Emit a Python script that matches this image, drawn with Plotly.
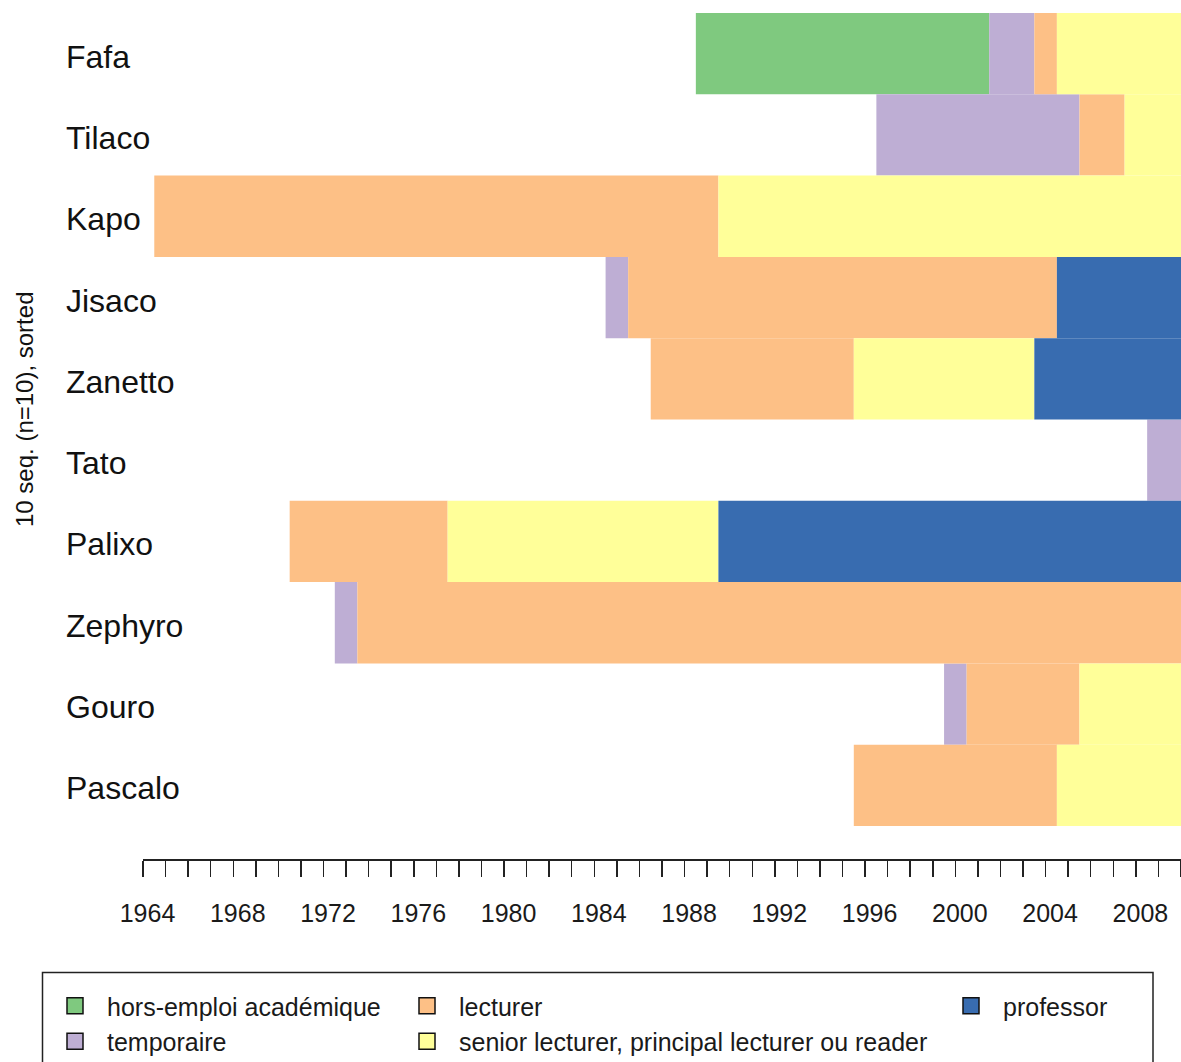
import plotly.graph_objects as go

# ---------------- data ----------------
states = ["hors-emploi académique", "temporaire", "lecturer",
          "senior lecturer, principal lecturer ou reader", "professor"]
state_colors = ["#7FC97F", "#BEAED4", "#FDC086", "#FFFF99", "#386CB0"]

# sequences, top to bottom; each spell = (state index, first year)
seq_names = ["Fafa", "Tilaco", "Kapo", "Jisaco", "Zanetto",
             "Tato", "Palixo", "Zephyro", "Gouro", "Pascalo"]
seq_spells = [
    [(0, 1989), (1, 2002), (2, 2004), (3, 2005)],
    [(1, 1997), (2, 2006), (3, 2008)],
    [(2, 1965), (3, 1990)],
    [(1, 1985), (2, 1986), (4, 2005)],
    [(2, 1987), (3, 1996), (4, 2004)],
    [(1, 2009)],
    [(2, 1971), (3, 1978), (4, 1990)],
    [(1, 1973), (2, 1974)],
    [(1, 2000), (2, 2001), (3, 2006)],
    [(2, 1996), (3, 2005)],
]
last_year = 2010

tick_years = list(range(1964, 2011))
label_years = list(range(1964, 2009, 4))
ytitle = "10 seq. (n=10), sorted"

# ---------------- layout geometry ----------------
W, H = 1181, 1062
ML, MR, MT = 143, 0, 13
PW = W - ML - MR
PH = 846
MB = H - MT - PH
PLOT_LEFT_PAGE, PLOT_BOTTOM_PAGE = 143, 859


def px_x(p):
    return (p - PLOT_LEFT_PAGE) / PW


def px_y(p):
    return (PLOT_BOTTOM_PAGE - p) / PH


FONT = "Liberation Sans, Arial, sans-serif"
n = len(seq_names)

fig = go.Figure()

# bars, one trace per state
for si, (st, col) in enumerate(zip(states, state_colors)):
    xs, bases, ys = [], [], []
    for ri, spells in enumerate(seq_spells):
        row = n - 1 - ri
        for k, (s, y0) in enumerate(spells):
            y1 = spells[k + 1][1] if k + 1 < len(spells) else last_year + 1
            if s == si:
                xs.append(y1 - y0)
                bases.append(y0 - 0.5)
                ys.append(row)
    fig.add_trace(go.Bar(
        x=xs, base=bases, y=ys, orientation="h", width=1.0,
        marker=dict(color=col, line=dict(width=0)),
        showlegend=False, hoverinfo="skip"))

# legend-only entries, split into three columns
legend_ids = ["legend", "legend", "legend2", "legend2", "legend3"]
for st, col, lg in zip(states, state_colors, legend_ids):
    fig.add_trace(go.Scatter(
        x=[None], y=[None], mode="markers", name=st, legend=lg,
        marker=dict(symbol="square", size=16, color=col,
                    line=dict(color="#111", width=1.5)),
        hoverinfo="skip"))

# invisible trace for label axis
fig.add_trace(go.Scatter(x=[None], y=[None], xaxis="x2", showlegend=False,
                         hoverinfo="skip"))

# sequence names
for ri, nm in enumerate(seq_names):
    fig.add_annotation(text=nm, x=px_x(64), xref="paper", y=n - 1 - ri, yref="y",
                       xanchor="left", yanchor="middle", showarrow=False, yshift=-3,
                       font=dict(family=FONT, size=32, color="#111"))

# y title
fig.add_annotation(text=ytitle, x=px_x(25), xref="paper", y=px_y(410), yref="paper",
                   textangle=-90, showarrow=False, xanchor="center", yanchor="middle",
                   font=dict(family=FONT, size=24, color="#111"))

# legend frame
fig.add_shape(type="rect", xref="paper", yref="paper",
              x0=px_x(42.5), x1=px_x(1153), y0=px_y(972.5), y1=px_y(1090),
              line=dict(color="#222", width=1.5), fillcolor="rgba(0,0,0,0)")

leg_common = dict(font=dict(family=FONT, size=25, color="#1a1a1a"),
                  bgcolor="rgba(0,0,0,0)", borderwidth=0, itemwidth=54,
                  xanchor="left", yanchor="top", orientation="v",
                  tracegroupgap=0, itemclick=False)

fig.update_layout(
    width=W, height=H,
    margin=dict(l=ML, r=MR, t=MT, b=MB, autoexpand=False),
    plot_bgcolor="white", paper_bgcolor="white",
    barmode="overlay",
    xaxis=dict(range=[1964, 2010], tickvals=tick_years,
               ticktext=["" for _ in tick_years], ticks="outside", ticklen=16,
               tickwidth=1.5, tickcolor="#222", showline=True, linecolor="#222",
               linewidth=1.5, showgrid=False, zeroline=False, fixedrange=True),
    xaxis2=dict(range=[1964, 2010], overlaying="x", anchor="y", side="bottom",
                tickvals=[y + 0.2 for y in label_years],
                ticktext=[str(y) for y in label_years],
                ticks="outside", ticklen=32, tickcolor="rgba(0,0,0,0)",
                showline=False, showgrid=False, zeroline=False, fixedrange=True,
                tickfont=dict(family=FONT, size=25, color="#1a1a1a")),
    yaxis=dict(range=[-0.906, n - 0.5], showticklabels=False, ticks="",
               showline=False, showgrid=False, zeroline=False, fixedrange=True),
    legend=dict(x=px_x(43), y=px_y(983), **leg_common),
    legend2=dict(x=px_x(395), y=px_y(983), **leg_common),
    legend3=dict(x=px_x(939), y=px_y(983), **leg_common),
)

fig.write_html("out.html",
               config={"displayModeBar": False, "staticPlot": True},
               post_script="document.body.style.margin='0';"
                           "document.body.style.overflow='hidden';")
